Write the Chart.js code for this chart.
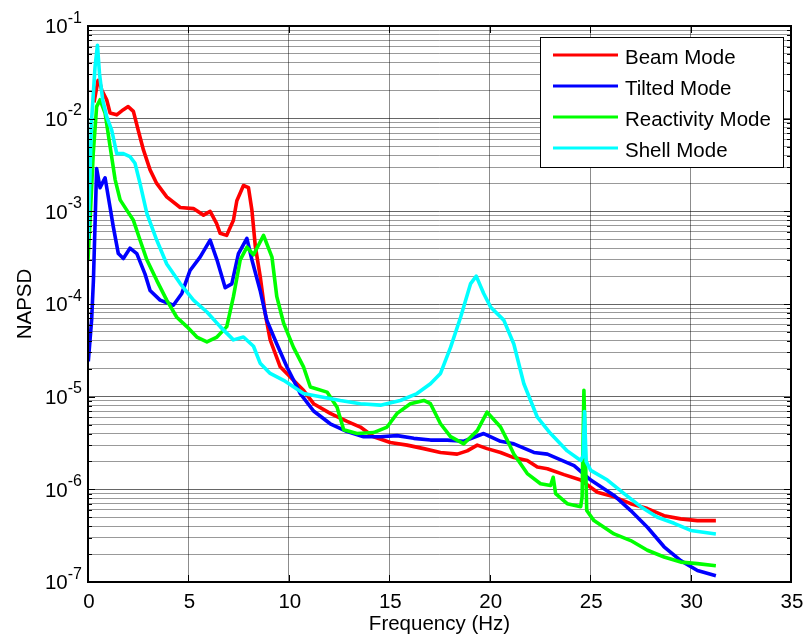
<!DOCTYPE html>
<html>
<head>
<meta charset="utf-8">
<title>NAPSD</title>
<script src="https://cdn.jsdelivr.net/npm/chart.js@4/dist/chart.umd.min.js"></script>
<style>
  html, body { margin: 0; padding: 0; background: #ffffff; }
  #wrap { width: 803px; height: 642px; }
</style>
</head>
<body>
<div id="wrap"><canvas id="psd" width="803" height="642"></canvas></div>
<script>
// ---- Spectra (frequency in Hz, normalised auto power spectral density) ----
const beamFreq = [0.3, 0.5, 0.6, 0.68, 0.93, 1.1, 1.43, 1.76, 2.0, 2.26, 2.5, 2.76, 3.09, 3.42, 3.92,
  4.59, 5.25, 5.75, 6.08, 6.4, 6.58, 6.9, 7.24, 7.41, 7.74, 7.99, 8.16, 8.33, 8.57, 8.82,
  9.07, 9.57, 10.23, 10.73, 11.23, 12.06, 12.9, 13.56, 14.22, 15.05, 15.89, 16.71, 17.55, 18.38, 18.88,
  19.38, 19.87, 20.54, 21.2, 21.87, 22.37, 22.87, 23.7, 24.53, 25.36, 26.19, 27.02, 27.85, 28.68, 29.51,
  30.34, 31.26];
const beamPsd = [1.5e-2, 2.6e-2, 2.4e-2, 2.05e-2, 1.6e-2, 1.15e-2, 1.1e-2, 1.25e-2, 1.35e-2, 1.2e-2, 7.5e-3, 4.6e-3, 2.8e-3, 2.0e-3, 1.43e-3,
  1.1e-3, 1.07e-3, 9.1e-4, 1.0e-3, 7.4e-4, 5.8e-4, 5.5e-4, 8.0e-4, 1.3e-3, 1.9e-3, 1.8e-3, 1.03e-3, 4.2e-4, 2.0e-4, 7.9e-5,
  4.1e-5, 2.1e-5, 1.5e-5, 1.17e-5, 8.4e-6, 6.6e-6, 5.4e-6, 4.7e-6, 3.7e-6, 3.2e-6, 3.0e-6, 2.75e-6, 2.5e-6, 2.4e-6, 2.6e-6,
  3.0e-6, 2.75e-6, 2.5e-6, 2.2e-6, 2.05e-6, 1.74e-6, 1.67e-6, 1.44e-6, 1.26e-6, 9.3e-7, 8.3e-7, 7.0e-7, 6.2e-7, 5.2e-7, 4.8e-7,
  4.6e-7, 4.6e-7];

const tiltedFreq = [0.015, 0.18, 0.27, 0.43, 0.6, 0.85, 1.1, 1.26, 1.51, 1.76, 2.09, 2.43, 2.84, 3.09, 3.59,
  4.25, 4.67, 5.08, 5.58, 6.08, 6.42, 6.83, 7.16, 7.49, 7.91, 8.16, 8.57, 8.9, 9.4, 9.9,
  10.57, 11.23, 12.06, 12.9, 13.72, 14.56, 15.39, 16.22, 17.05, 17.88, 18.71, 19.7, 20.54, 21.2, 22.2,
  22.87, 24.2, 25.03, 26.19, 27.02, 27.85, 28.68, 29.51, 30.34, 31.26];
const tiltedPsd = [2.4e-5, 6.7e-5, 1.8e-4, 2.9e-3, 1.8e-3, 2.3e-3, 1.1e-3, 6.8e-4, 3.5e-4, 3.1e-4, 4.0e-4, 3.5e-4, 2.1e-4, 1.4e-4, 1.1e-4,
  9.7e-5, 1.3e-4, 2.3e-4, 3.2e-4, 4.9e-4, 3.0e-4, 1.5e-4, 1.65e-4, 3.5e-4, 5.1e-4, 3.0e-4, 1.4e-4, 6.7e-5, 3.7e-5, 2.1e-5,
  1.08e-5, 7.0e-6, 5.1e-6, 4.2e-6, 3.7e-6, 3.7e-6, 3.8e-6, 3.55e-6, 3.4e-6, 3.4e-6, 3.3e-6, 4.0e-6, 3.3e-6, 3.1e-6, 2.5e-6,
  2.4e-6, 1.8e-6, 1.26e-6, 8.6e-7, 5.9e-7, 3.9e-7, 2.4e-7, 1.7e-7, 1.33e-7, 1.17e-7];

const reactivityFreq = [0.0, 0.1, 0.26, 0.43, 0.6, 0.85, 1.1, 1.35, 1.6, 1.93, 2.26, 2.59, 2.93, 3.42, 3.92,
  4.42, 4.92, 5.42, 5.92, 6.42, 6.91, 7.24, 7.58, 7.91, 8.24, 8.74, 9.16, 9.4, 9.74, 10.23,
  10.73, 11.07, 11.9, 12.4, 12.73, 13.39, 14.22, 14.89, 15.39, 16.05, 16.72, 17.05, 17.55, 18.05, 18.71,
  19.38, 19.87, 20.54, 20.87, 21.2, 21.87, 22.53, 23.03, 23.16, 23.28, 23.86, 24.53, 24.6, 24.69, 24.83,
  25.19, 26.19, 27.02, 27.85, 28.68, 29.51, 30.34, 31.26];
const reactivityPsd = [3.0e-4, 7.9e-4, 4.2e-3, 1.35e-2, 1.6e-2, 1.15e-2, 5.0e-3, 2.2e-3, 1.33e-3, 1.03e-3, 8.0e-4, 4.9e-4, 3.0e-4, 1.8e-4, 1.1e-4,
  7.2e-5, 5.7e-5, 4.4e-5, 3.9e-5, 4.4e-5, 5.7e-5, 1.2e-4, 3.0e-4, 4.1e-4, 3.4e-4, 5.5e-4, 3.2e-4, 1.2e-4, 6.2e-5, 3.4e-5,
  2.1e-5, 1.27e-5, 1.12e-5, 7.7e-6, 4.4e-6, 4.0e-6, 4.1e-6, 4.7e-6, 6.6e-6, 8.4e-6, 9.1e-6, 8.4e-6, 5.1e-6, 3.7e-6, 3.1e-6,
  4.3e-6, 6.8e-6, 4.7e-6, 3.4e-6, 2.4e-6, 1.48e-6, 1.15e-6, 1.1e-6, 1.35e-6, 9.0e-7, 7.0e-7, 6.5e-7, 8.3e-7, 1.17e-5, 5.9e-7,
  4.6e-7, 3.3e-7, 2.8e-7, 2.2e-7, 1.86e-7, 1.64e-7, 1.58e-7, 1.5e-7];

const shellFreq = [0.0, 0.18, 0.35, 0.47, 0.57, 0.73, 0.93, 1.18, 1.43, 1.76, 2.09, 2.34, 2.59, 2.93, 3.42,
  3.92, 4.59, 5.25, 5.92, 6.58, 7.24, 7.74, 8.24, 8.57, 9.07, 9.74, 10.73, 11.57, 12.56, 13.56,
  14.56, 15.55, 16.38, 17.05, 17.55, 18.05, 18.55, 19.05, 19.33, 19.7, 20.04, 20.7, 21.2, 21.7, 22.37,
  23.03, 23.86, 24.53, 24.65, 24.72, 24.8, 25.03, 25.86, 26.69, 27.52, 28.35, 29.18, 30.01, 31.26];
const shellPsd = [4.9e-4, 9.7e-3, 3.6e-2, 6.2e-2, 3.1e-2, 1.6e-2, 1.05e-2, 7.5e-3, 4.2e-3, 4.2e-3, 3.9e-3, 3.3e-3, 2.0e-3, 9.5e-4, 4.9e-4,
  2.7e-4, 1.66e-4, 1.1e-4, 8.2e-5, 5.7e-5, 4.1e-5, 4.4e-5, 3.5e-5, 2.3e-5, 1.78e-5, 1.5e-5, 1.08e-5, 1.0e-5, 9.1e-6, 8.4e-6,
  8.1e-6, 9.1e-6, 1.08e-5, 1.38e-5, 1.78e-5, 3.4e-5, 7.2e-5, 1.66e-4, 2.0e-4, 1.3e-4, 9.3e-5, 6.7e-5, 3.7e-5, 1.38e-5, 6.0e-6,
  4.0e-6, 2.6e-6, 2.05e-6, 2.3e-6, 6.9e-6, 2.0e-6, 1.6e-6, 1.26e-6, 9.0e-7, 6.5e-7, 5.0e-7, 4.3e-7, 3.6e-7, 3.3e-7];

// ---- Series labels, colours, axis ticks ----
const seriesLabels = ['Beam Mode', 'Tilted Mode', 'Reactivity Mode', 'Shell Mode'];
const seriesColors = ['#ff0000', '#0000ff', '#00ff00', '#00ffff'];
const xTickValues = [0, 5, 10, 15, 20, 25, 30, 35];
const yDecadeExponents = [-7, -6, -5, -4, -3, -2, -1];
const xAxisTitle = 'Frequency (Hz)';
const yAxisTitle = 'NAPSD';

// Gridlines at every 1..9 x 10^k between the lowest and highest decade
const yGridValues = [];
for (let i = 0; i < yDecadeExponents.length; i++) {
  const base = Math.pow(10, yDecadeExponents[i]);
  const last = i === yDecadeExponents.length - 1 ? 1 : 9;
  for (let m = 1; m <= last; m++) yGridValues.push({ value: m * base, major: m === 1 });
}

const FONT = '"Liberation Sans", Arial, Helvetica, sans-serif';
const LABEL_PX = 20.5;
const SUP_PX = 16;

function toPoints(xs, ys) { return xs.map((x, i) => ({ x: x, y: ys[i] })); }

const seriesData = [
  toPoints(beamFreq, beamPsd),
  toPoints(tiltedFreq, tiltedPsd),
  toPoints(reactivityFreq, reactivityPsd),
  toPoints(shellFreq, shellPsd)
];

const datasets = seriesData.map((pts, i) => ({
  label: seriesLabels[i],
  data: pts,
  borderColor: seriesColors[i],
  backgroundColor: seriesColors[i],
  borderWidth: 3.6,
  pointRadius: 0,
  tension: 0,
  fill: false,
  borderJoinStyle: 'round',
  order: seriesLabels.length - i   // later series sit on top
}));

// Axis frame, inner tick marks, tick labels, axis titles and boxed legend
const framePlugin = {
  id: 'frame',
  afterDraw(chart) {
    const ctx = chart.ctx;
    const area = chart.chartArea;
    const xs = chart.scales.x, ys = chart.scales.y;
    ctx.save();

    // inner tick marks
    ctx.strokeStyle = '#000';
    ctx.lineWidth = 1;
    ctx.beginPath();
    yGridValues.forEach(t => {
      const y = Math.round(ys.getPixelForValue(t.value)) + 0.5;
      const len = t.major ? 7 : 4;
      ctx.moveTo(area.left, y); ctx.lineTo(area.left + len, y);
      ctx.moveTo(area.right, y); ctx.lineTo(area.right - len, y);
    });
    xTickValues.forEach(v => {
      const x = Math.round(xs.getPixelForValue(v)) + 0.5;
      ctx.moveTo(x, area.bottom); ctx.lineTo(x, area.bottom - 7);
      ctx.moveTo(x, area.top); ctx.lineTo(x, area.top + 7);
    });
    ctx.stroke();

    // axes box
    ctx.lineWidth = 2;
    ctx.strokeRect(area.left, area.top, area.right - area.left, area.bottom - area.top);

    // x tick labels
    ctx.fillStyle = '#000';
    ctx.font = LABEL_PX + 'px ' + FONT;
    ctx.textAlign = 'center';
    ctx.textBaseline = 'alphabetic';
    xTickValues.forEach(v => {
      ctx.fillText(String(v), xs.getPixelForValue(v) + 1, area.bottom + 26);
    });

    // y tick labels as 10 with a raised exponent
    ctx.textAlign = 'left';
    const labelRight = area.left - 6;
    yDecadeExponents.forEach(e => {
      const y = ys.getPixelForValue(Math.pow(10, e));
      const expText = String(e);
      ctx.font = SUP_PX + 'px ' + FONT;
      const ew = ctx.measureText(expText).width;
      ctx.fillText(expText, labelRight - ew, y - 3.5);
      ctx.font = LABEL_PX + 'px ' + FONT;
      const bw = ctx.measureText('10').width;
      ctx.fillText('10', labelRight - ew - bw, y + 7.4);
    });

    // axis titles
    ctx.font = LABEL_PX + 'px ' + FONT;
    ctx.textAlign = 'center';
    ctx.fillText(xAxisTitle, (area.left + area.right) / 2, area.bottom + 48);
    ctx.save();
    ctx.translate(31, (area.top + area.bottom) / 2);
    ctx.rotate(-Math.PI / 2);
    ctx.fillText(yAxisTitle, 0, 0);
    ctx.restore();

    // legend box
    const boxRight = area.right - 8;
    const boxLeft = boxRight - 243;
    const boxTop = area.top + 11;
    const rowH = 31;
    const boxH = 130;
    ctx.fillStyle = '#fff';
    ctx.fillRect(boxLeft, boxTop, boxRight - boxLeft, boxH);
    ctx.strokeStyle = '#000';
    ctx.lineWidth = 1;
    ctx.strokeRect(boxLeft + 0.5, boxTop + 0.5, boxRight - boxLeft, boxH);
    chart.data.datasets.forEach((ds, i) => {
      const y = boxTop + 18 + i * rowH;
      ctx.strokeStyle = ds.borderColor;
      ctx.lineWidth = 3;
      ctx.beginPath();
      ctx.moveTo(boxLeft + 13, y);
      ctx.lineTo(boxLeft + 78, y);
      ctx.stroke();
      ctx.fillStyle = '#000';
      ctx.font = LABEL_PX + 'px ' + FONT;
      ctx.textAlign = 'left';
      ctx.fillText(ds.label, boxLeft + 85, y + 8.5);
    });

    ctx.restore();
  }
};

new Chart(document.getElementById('psd'), {
  type: 'line',
  data: { datasets: datasets },
  options: {
    responsive: false,
    animation: false,
    devicePixelRatio: 1,
    parsing: true,
    layout: { padding: { left: 88, right: 12, top: 26, bottom: 60 } },
    plugins: { legend: { display: false }, tooltip: { enabled: false } },
    scales: {
      x: {
        type: 'linear',
        min: 0,
        max: 35,
        afterBuildTicks: s => { s.ticks = xTickValues.map(v => ({ value: v })); },
        ticks: { display: false },
        title: { display: false },
        border: { display: false },
        grid: { color: 'rgba(0,0,0,0.45)', lineWidth: 1, drawTicks: false }
      },
      y: {
        type: 'logarithmic',
        min: 1e-7,
        max: 1e-1,
        afterBuildTicks: s => { s.ticks = yGridValues.map(t => ({ value: t.value, major: t.major })); },
        ticks: { display: false },
        title: { display: false },
        border: { display: false },
        grid: {
          color: ctx => (ctx.tick && ctx.tick.major) ? 'rgba(0,0,0,0.6)' : 'rgba(0,0,0,0.4)',
          lineWidth: 1,
          drawTicks: false
        }
      }
    }
  },
  plugins: [framePlugin]
});
</script>
</body>
</html>
